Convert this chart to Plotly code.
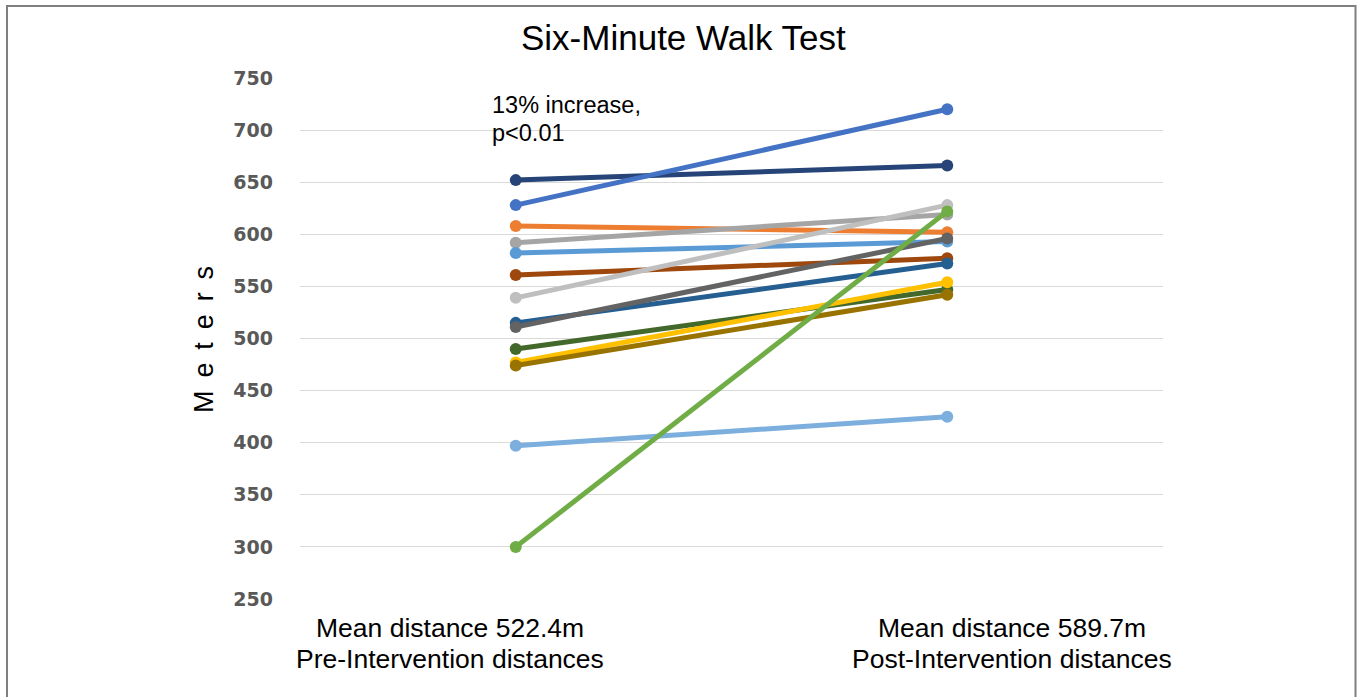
import plotly.graph_objects as go

categories = ["Pre", "Post"]
pre_values = [652, 628, 608, 592, 582, 561, 539, 515, 511, 490, 477, 474, 397, 300]
post_values = [666, 720, 602, 619, 593, 577, 628, 572, 596, 547, 554, 542, 425, 622]
colors = ["#264478", "#4472C4", "#ED7D31", "#A5A5A5", "#5B9BD5", "#9E480E", "#BFBFBF",
          "#255E91", "#636363", "#43682B", "#FFC000", "#997300", "#7CAFDD", "#70AD47"]
y_ticks = [250, 300, 350, 400, 450, 500, 550, 600, 650, 700, 750]
title_text = "Six-Minute Walk Test"
y_title = "M e t e r s"
x_label_top = ["Mean distance 522.4m", "Mean distance 589.7m"]
x_label_bottom = ["Pre-Intervention distances", "Post-Intervention distances"]
note_lines = ["13% increase,", "p<0.01"]

W, H = 1357, 697
L, R, T, B = 300, 194, 78, 98
pw, ph = W - L - R, H - T - B

fig = go.Figure()
for pv, qv, c in zip(pre_values, post_values, colors):
    fig.add_trace(go.Scatter(
        x=[0, 1], y=[pv, qv], mode="lines+markers",
        line=dict(color=c, width=5), marker=dict(color=c, size=12),
        showlegend=False, hoverinfo="y"))

font = "Liberation Sans, Arial, sans-serif"

def px(xp):
    return (xp - L) / pw

def py(yp):
    return (H - B - yp) / ph

def txt(text, x, y, size, xanchor="center", angle=0):
    return dict(text=text, x=px(x), y=py(y), xref="paper", yref="paper",
                showarrow=False, textangle=angle,
                font=dict(family=font, size=size, color="#000000"),
                xanchor=xanchor, yanchor="middle")

annotations = [
    txt(title_text, 683, 37, 35),
    txt(y_title.replace(" ", "\u00a0\u2009"), 204, 340, 27, angle=-90),
    txt(x_label_top[0], 450, 628, 26.5),
    txt(x_label_bottom[0], 450, 659, 26.5),
    txt(x_label_top[1], 1012, 628, 26.5),
    txt(x_label_bottom[1], 1012, 659, 26.5),
    txt(note_lines[0], 490, 105, 23.5, xanchor="left"),
    txt(note_lines[1], 490, 133, 23.5, xanchor="left"),
]

fig.update_layout(
    width=W, height=H,
    margin=dict(l=L, r=R, t=T, b=B, pad=0),
    paper_bgcolor="white", plot_bgcolor="white",
    annotations=annotations,
    shapes=[dict(type="rect", xref="paper", yref="paper",
                 x0=px(7), x1=px(1355.5), y0=py(720), y1=py(6),
                 line=dict(color="#7F7F7F", width=2), layer="below")],
    xaxis=dict(range=[-0.5, 1.5], showticklabels=False, showgrid=False,
               zeroline=False, showline=False, fixedrange=True),
    yaxis=dict(range=[250, 750], tickvals=y_ticks, showgrid=True,
               gridcolor="#D9D9D9", gridwidth=1.3, zeroline=False, showline=False,
               ticks="", ticklabelstandoff=26,
               tickfont=dict(family="DejaVu Sans, sans-serif", size=19, color="#595959",
                             weight="bold"),
               fixedrange=True),
)

fig.write_html("out.html", config={"displayModeBar": False},
               post_script="document.body.style.margin='0';")
